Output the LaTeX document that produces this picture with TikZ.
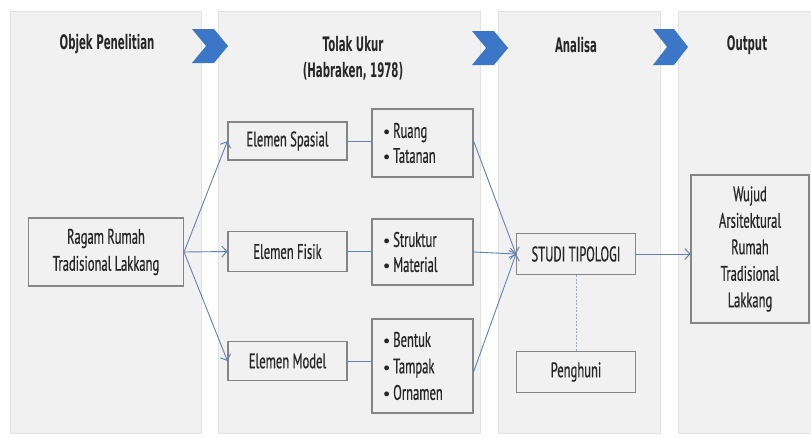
\documentclass[tikz,border=0pt]{standalone}
\usepackage{fontspec}
\setmainfont[FakeStretch=0.6, FakeBold=0.6]{PT Sans}
\newfontfamily\ttlfont[FakeStretch=0.51]{DejaVu Sans}
\usetikzlibrary{arrows.meta,positioning}
\definecolor{panelfill}{HTML}{F1F1F1}
\definecolor{panelline}{HTML}{E2E2E2}
\definecolor{boxline}{HTML}{858585}
\definecolor{conn}{HTML}{6481B3}
\definecolor{chev}{HTML}{3B77C6}
\definecolor{txt}{HTML}{262626}
\tikzset{
  panel/.style={fill=panelfill, draw=panelline, line width=0.8pt},
  ttl/.style={text=txt, font=\ttlfont\bfseries\fontsize{20}{26}\selectfont, align=center, inner sep=0pt},
  elbox/.style={draw=boxline, fill=panelfill, line width=1.1pt, text=txt,
    font=\fontsize{21}{26}\selectfont, align=center, inner sep=0pt,
    minimum width=119pt, minimum height=39pt},
  listbox/.style={draw=boxline, fill=panelfill, line width=1.1pt, text=txt,
    font=\fontsize{21}{26}\selectfont, align=left, inner sep=0pt,
    minimum width=101pt, text width=78pt},
  conn/.style={draw=conn, line width=0.9pt},
  arr/.style={conn, -{Straight Barb[length=5pt,width=11pt,line width=1pt]}},
  chevron/.style={fill=chev, draw=none}
}
\newcommand{\bul}{\raisebox{0.2ex}{\scalebox{0.6}{$\bullet$}}\,}
\begin{document}
\begin{tikzpicture}[x=1pt,y=-1pt]
\useasboundingbox (0,0) rectangle (811,437);
\fill[white] (0,0) rectangle (811,437);
% panels
\draw[panel] (10,11) rectangle (201,433);
\draw[panel] (218,11) rectangle (480,433);
\draw[panel] (498,11) rectangle (660,433);
\draw[panel] (678,11) rectangle (812,433);
% chevrons
\fill[chevron] (192,29) -- (214,29) -- (228,46) -- (214,63) -- (192,63) -- (206,46) -- cycle;
\fill[chevron] (472,31) -- (494,31) -- (508,48) -- (494,65) -- (472,65) -- (486,48) -- cycle;
\fill[chevron] (653,29) -- (674,29) -- (688,47) -- (674,65) -- (653,65) -- (667,47) -- cycle;
% titles
\node[ttl] (t1) at (107,44) {Objek Penelitian};
\node[ttl] (t2) at (353,58) {Tolak Ukur\\(Habraken, 1978)};
\node[ttl] (t3) at (576,45) {Analisa};
\node[ttl] (t4) at (747,45) {Output};
% boxes
\node[elbox, minimum width=155pt, minimum height=68pt, font=\fontsize{21}{27}\selectfont] (ragam) at (106,252) {Ragam Rumah\\Tradisional Lakkang};
\node[elbox, minimum height=38pt] (spasial) at (287.5,141) {Elemen Spasial};
\node[elbox, minimum height=40pt] (fisik) at (287.5,251.5) {Elemen Fisik};
\node[elbox] (model) at (287.5,361) {Elemen Model};
\node[listbox, minimum height=68pt, font=\fontsize{21}{25}\selectfont] (ruang) at (422.5,143) {\bul Ruang\\\bul Tatanan};
\node[listbox, minimum height=66pt, font=\fontsize{21}{25}\selectfont] (struktur) at (422.5,252) {\bul Struktur\\\bul Material};
\node[listbox, minimum height=94pt, font=\fontsize{21}{26.5}\selectfont] (bentuk) at (422.5,366) {\bul Bentuk\\\bul Tampak\\\bul Ornamen};
\node[elbox, minimum height=41pt] (studi) at (576,254) {STUDI TIPOLOGI};
\node[elbox, minimum height=41pt] (penghuni) at (576,372) {Penghuni};
\node[elbox, minimum width=118pt, minimum height=148pt, font=\fontsize{21}{26.5}\selectfont] (wujud) at (750,249) {Wujud\\Arsitektural\\Rumah\\Tradisional\\Lakkang};
% connectors
\draw[arr] (ragam.east) -- (spasial.west);
\draw[arr] (ragam.east) -- (fisik.west);
\draw[arr] (ragam.east) -- (model.west);
\draw[conn] (spasial.east) -- (spasial.east -| ruang.west);
\draw[conn] (fisik.east) -- (fisik.east -| struktur.west);
\draw[conn] (model.east) -- (model.east -| bentuk.west);
\draw[arr] ([yshift=2pt]ruang.east) -- (studi.west);
\draw[arr] (struktur.east) -- (studi.west);
\draw[arr] ([yshift=-6pt]bentuk.east) -- (studi.west);
\draw[arr] (studi.east) -- (studi.east -| wujud.west);
\draw[conn, dashed, dash pattern=on 2pt off 1.5pt, draw=conn!70] (studi.south) -- (penghuni.north);
\end{tikzpicture}
\end{document}
